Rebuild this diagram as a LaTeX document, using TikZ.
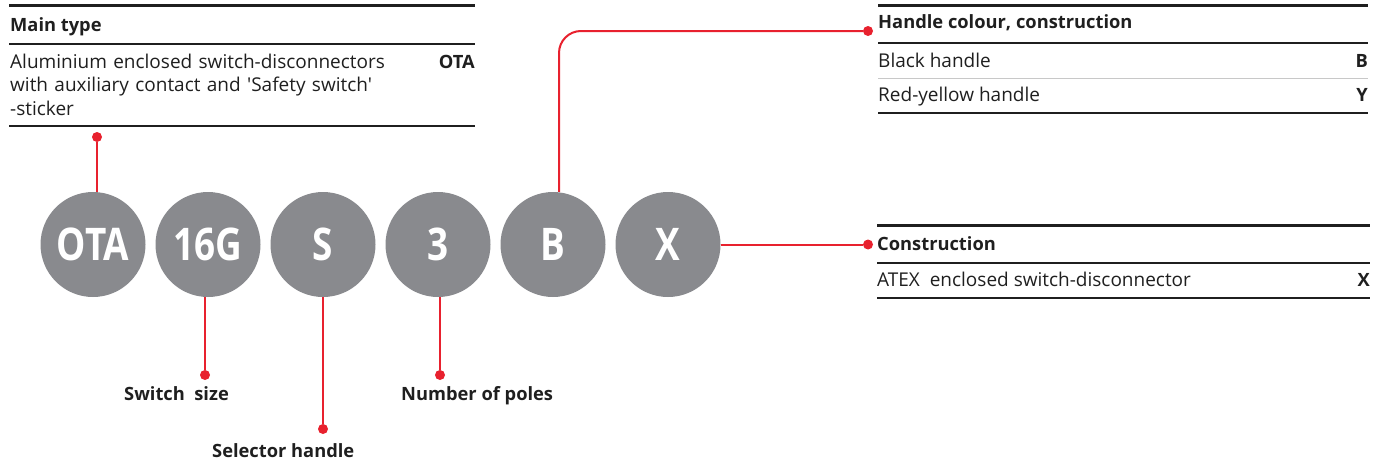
\documentclass[tikz,border=0pt]{standalone}
\usepackage{fontspec}
\setmainfont{Open Sans}[Ligatures=TeXOff]
\newfontfamily\codefont[FakeStretch=0.82]{Open Sans}
\definecolor{abbred}{HTML}{E8212E}
\definecolor{codegrey}{HTML}{898A8E}
\definecolor{rulegrey}{HTML}{C8C8C8}
\definecolor{inkblack}{HTML}{1F1F1F}
\tikzset{
  code/.style={circle, fill=codegrey, minimum size=105pt, inner sep=0pt,
    text=white, font=\codefont\bfseries\fontsize{45}{45}\selectfont},
  txt/.style={anchor=base west, inner sep=0pt, text=inkblack,
    font=\fontsize{19}{23.5}\selectfont},
  tabhead/.style={txt, font=\fontsize{18.3}{23.5}\selectfont\bfseries},
  tabval/.style={anchor=base east, inner sep=0pt, text=inkblack,
    font=\fontsize{18.3}{23.5}\selectfont\bfseries},
  heavyrule/.style={line width=3.5pt, draw=inkblack},
  tabrule/.style={line width=2pt, draw=inkblack},
  softrule/.style={line width=1pt, draw=rulegrey},
  leader/.style={draw=abbred, line width=2pt},
  reddot/.style={circle, fill=abbred, minimum size=10pt, inner sep=0pt},
}
% rule split at the value column: #1 style, #2 y, #3 left, #4 gap, #5 right
\newcommand\splitrule[5]{%
  \draw[#1] (#3,#2) -- (#4-0.4,#2);
  \draw[#1] (#4+0.4,#2) -- (#5,#2);}
\begin{document}
\begin{tikzpicture}[x=1pt,y=-1pt]
    \useasboundingbox (0,0) rectangle (1384,463);
    % main type table
    \splitrule{heavyrule}{5.5}{9}{410}{475}
    \splitrule{tabrule}{43.5}{9}{410}{475}
    \splitrule{tabrule}{126}{9}{410}{475}
    \node[tabhead] (maintype) at (10,31) {Main type};
    \node[txt, text width=400pt, align=left] (maindesc) at (10,68)
      {Aluminium enclosed switch-disconnectors\\with auxiliary contact and 'Safety switch'\\-sticker};
    \node[tabval] (mainval) at (475,68) {OTA};
    % handle colour table
    \splitrule{heavyrule}{5.5}{878}{1323}{1368}
    \splitrule{tabrule}{43}{878}{1323}{1368}
    \splitrule{softrule}{78}{878}{1323}{1368}
    \splitrule{tabrule}{113}{878}{1323}{1368}
    \node[tabhead] (colourhead) at (878,28.5) {Handle colour, construction};
    \node[txt] (black) at (878,67) {Black handle};
    \node[tabval] (blackval) at (1368,67) {B};
    \node[txt] (redyellow) at (878,101.5) {Red-yellow handle};
    \node[tabval] (redyellowval) at (1368,101.5) {Y};
    % construction table
    \splitrule{heavyrule}{225.5}{877}{1322}{1370}
    \splitrule{tabrule}{263}{877}{1322}{1370}
    \splitrule{tabrule}{298}{877}{1322}{1370}
    \node[tabhead] (constrhead) at (877,250) {Construction};
    \node[txt] (atex) at (877,286) {ATEX\ \ enclosed switch-disconnector};
    \node[tabval] (atexval) at (1370,286) {X};
    % code circles
    \node[code] (ota) at (93,244.5) {OTA};
    \node[code] (size) at (208,244.5) {16G};
    \node[code] (sel) at (323,244.5) {S};
    \node[code] (poles) at (438,244.5) {3};
    \node[code] (colour) at (553,244.5) {B};
    \node[code] (constr) at (668,244.5) {X};
    % dots
    \node[reddot] (dmain) at (97,137) {};
    \node[reddot] (dcolour) at (868,31) {};
    \node[reddot] (dconstr) at (868,244.5) {};
    \node[reddot] (dsize) at (205,375) {};
    \node[reddot] (dsel) at (323,429) {};
    \node[reddot] (dpoles) at (440,375) {};
    % leaders
    \draw[leader] (dmain) -- (dmain |- ota.north);
    \draw[leader, rounded corners=22pt] ([xshift=6pt]colour.north) |- (dcolour);
    \draw[leader] (constr.east) -- (dconstr);
    \draw[leader] (dsize |- size.south) -- (dsize);
    \draw[leader] (dsel |- sel.south) -- (dsel);
    \draw[leader] (dpoles |- poles.south) -- (dpoles);
    % bottom labels
    \node[tabhead] (sizelabel) at (124,400) {Switch\ \ size};
    \node[tabhead] (sellabel) at (212,457) {Selector handle};
    \node[tabhead] (poleslabel) at (401,400) {Number of poles};
\end{tikzpicture}
\end{document}
